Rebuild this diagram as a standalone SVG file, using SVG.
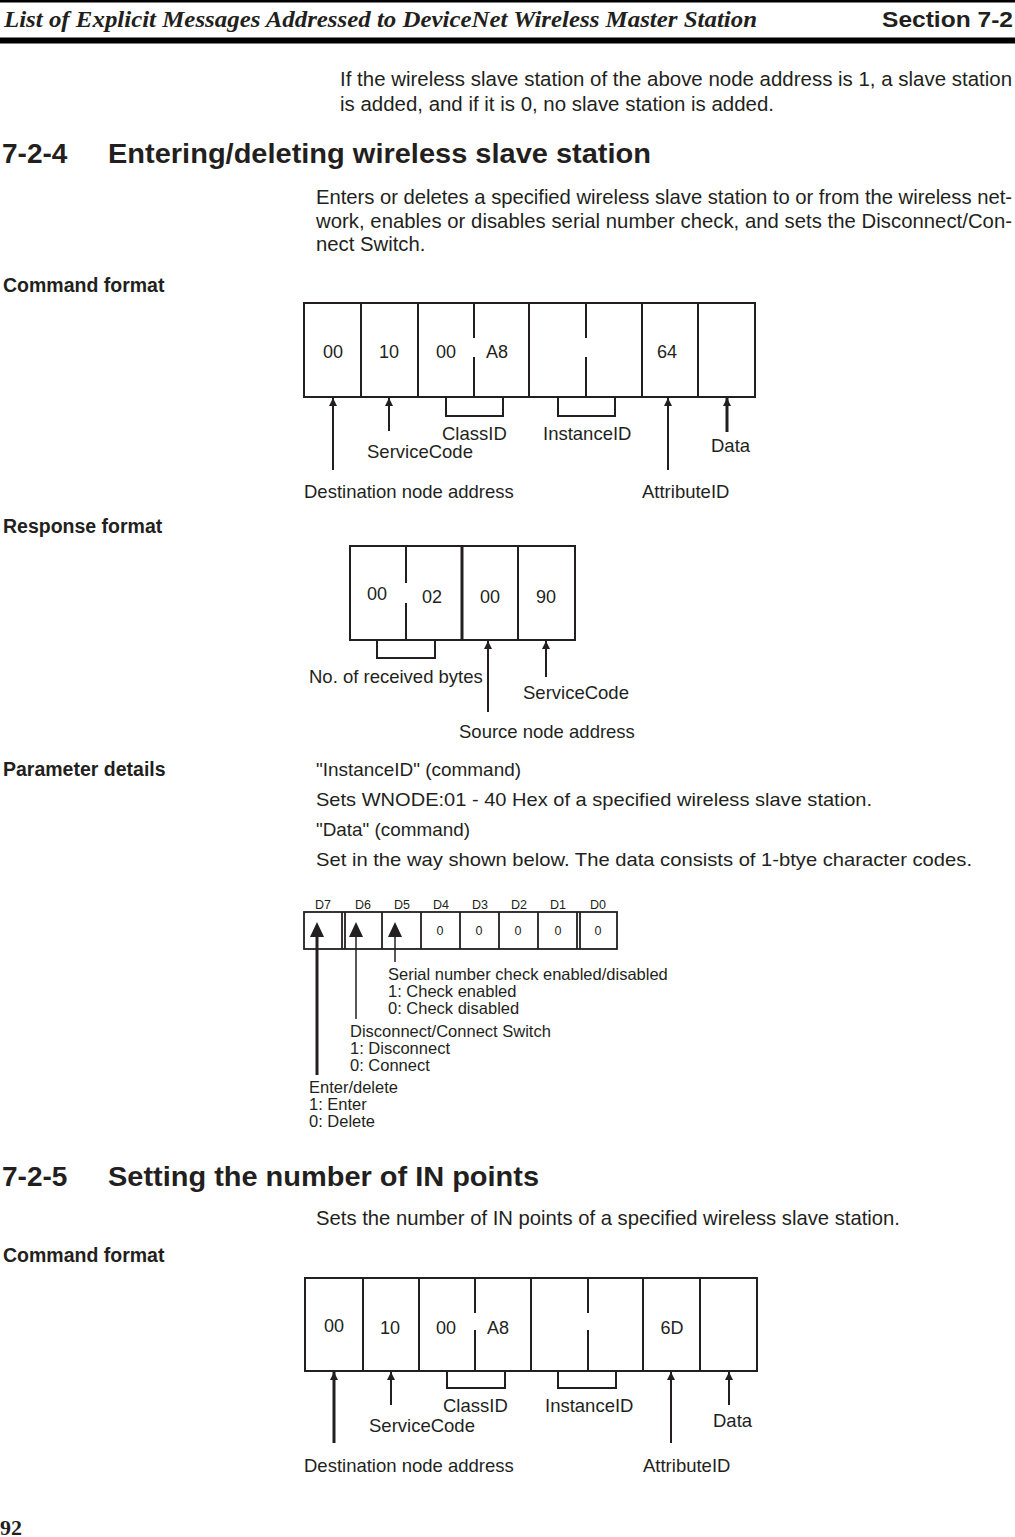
<svg xmlns="http://www.w3.org/2000/svg" width="1015" height="1537" viewBox="0 0 1015 1537">
<defs>
<style>
text{font-family:"Liberation Sans",Arial,Helvetica,sans-serif;fill:#231f20;}
.body{font-size:20.3px;}
.par{font-size:19px;}
.lbl{font-size:18.5px;}
.cell{font-size:18px;text-anchor:middle;}
.sub{font-size:19.5px;font-weight:bold;}
.h{font-size:28px;font-weight:bold;}
.bit{font-size:16.5px;}
.sm{font-size:12.5px;text-anchor:middle;}
.box{fill:none;stroke:#231f20;stroke-width:2;}
.ln{fill:none;stroke:#231f20;stroke-width:2;}
.arr{fill:none;stroke:#231f20;stroke-width:2;marker-end:url(#ah);}
.arrT{fill:none;stroke:#231f20;stroke-width:3;marker-end:url(#ah);}
</style>
<marker id="ah" viewBox="0 0 10 10" refX="10" refY="5" markerWidth="10" markerHeight="8" orient="auto" markerUnits="userSpaceOnUse">
<path d="M0,0 L10,5 L0,10 z" fill="#231f20"/>
</marker>
</defs>
<rect width="1015" height="1537" fill="#fff"/>

<g id="header">
<rect x="0" y="0" width="1015" height="2.5" fill="#000"/>
<rect x="0" y="37.5" width="1015" height="6" fill="#000"/>
<text x="4" y="27" style="font-family:'Liberation Serif','Times New Roman',serif;font-size:23px;font-weight:bold;font-style:italic" textLength="753" lengthAdjust="spacingAndGlyphs">List of Explicit Messages Addressed to DeviceNet Wireless Master Station</text>
<text x="882" y="27" style="font-size:22px;font-weight:bold" textLength="131" lengthAdjust="spacingAndGlyphs">Section 7-2</text>
</g>

<g id="text-top">
<text class="body" x="340" y="86" style="font-size:20.46px" textLength="672" lengthAdjust="spacing">If the wireless slave station of the above node address is 1, a slave station</text>
<text class="body" x="340" y="111" style="font-size:20.46px">is added, and if it is 0, no slave station is added.</text>
<text class="h" x="2" y="163">7-2-4</text>
<text class="h" x="108" y="163" textLength="543" lengthAdjust="spacingAndGlyphs">Entering/deleting wireless slave station</text>
<text class="body" x="316" y="204" textLength="696" lengthAdjust="spacing">Enters or deletes a specified wireless slave station to or from the wireless net-</text>
<text class="body" x="316" y="228" textLength="696" lengthAdjust="spacing">work, enables or disables serial number check, and sets the Disconnect/Con-</text>
<text class="body" x="316" y="251">nect Switch.</text>
<text class="sub" x="3" y="292">Command format</text>
<text class="sub" x="3" y="533">Response format</text>
<text class="sub" x="3" y="776">Parameter details</text>
<text class="par" x="316" y="776" textLength="205" lengthAdjust="spacingAndGlyphs">"InstanceID" (command)</text>
<text class="par" x="316" y="806" textLength="556" lengthAdjust="spacingAndGlyphs">Sets WNODE:01 - 40 Hex of a specified wireless slave station.</text>
<text class="par" x="316" y="836" textLength="154" lengthAdjust="spacingAndGlyphs">"Data" (command)</text>
<text class="par" x="316" y="866" textLength="656" lengthAdjust="spacingAndGlyphs">Set in the way shown below. The data consists of 1-btye character codes.</text>
<text class="h" x="2" y="1186">7-2-5</text>
<text class="h" x="108" y="1186" textLength="431" lengthAdjust="spacingAndGlyphs">Setting the number of IN points</text>
<text class="body" x="316" y="1225" textLength="584" lengthAdjust="spacingAndGlyphs">Sets the number of IN points of a specified wireless slave station.</text>
<text class="sub" x="3" y="1262">Command format</text>
<text x="0" y="1535" style="font-family:'Liberation Serif','Times New Roman',serif;font-size:22px;font-weight:bold">92</text>
</g>

<g id="cmd1">
<rect class="box" x="304" y="303" width="451" height="94"/>
<path class="ln" d="M361,303V397M418,303V397M529,303V397M642,303V397M698,303V397M474,303V338M474,357V397M586,303V338M586,357V397"/>
<text class="cell" x="333" y="358">00</text>
<text class="cell" x="389" y="358">10</text>
<text class="cell" x="446" y="358">00</text>
<text class="cell" x="497" y="358">A8</text>
<text class="cell" x="667" y="358">64</text>
</g>

<g id="cmd1-labels">
<text class="lbl" x="442" y="440">ClassID</text>
<text class="lbl" x="543" y="440">InstanceID</text>
<text class="lbl" x="367" y="458">ServiceCode</text>
<text class="lbl" x="711" y="452">Data</text>
<text class="lbl" x="304" y="498">Destination node address</text>
<text class="lbl" x="642" y="498">AttributeID</text>
</g>

<g id="resp">
<rect class="box" x="350" y="546" width="225" height="94"/>
<path class="ln" d="M406,546V583M406,603V640M518,546V640"/>
<path d="M462,546V640" fill="none" stroke="#231f20" stroke-width="3"/>
<text class="cell" x="377" y="600">00</text>
<text class="cell" x="432" y="603">02</text>
<text class="cell" x="490" y="603">00</text>
<text class="cell" x="546" y="603">90</text>
</g>

<g id="resp-labels">
<text class="lbl" x="309" y="683">No. of received bytes</text>
<text class="lbl" x="523" y="699">ServiceCode</text>
<text class="lbl" x="459" y="738">Source node address</text>
</g>

<g id="bits">
<rect class="box" x="304" y="912" width="313" height="37" style="stroke-width:1.8"/>
<path class="ln" style="stroke-width:1.8" d="M342,912V949M345,912V949M382,912V949M421,912V949M460,912V949M499,912V949M538,912V949M577,912V949M580,912V949"/>
<text class="sm" x="323" y="909">D7</text>
<text class="sm" x="363" y="909">D6</text>
<text class="sm" x="402" y="909">D5</text>
<text class="sm" x="441" y="909">D4</text>
<text class="sm" x="480" y="909">D3</text>
<text class="sm" x="519" y="909">D2</text>
<text class="sm" x="558" y="909">D1</text>
<text class="sm" x="598" y="909">D0</text>
<text class="sm" x="440" y="935">0</text>
<text class="sm" x="479" y="935">0</text>
<text class="sm" x="518" y="935">0</text>
<text class="sm" x="558" y="935">0</text>
<text class="sm" x="598" y="935">0</text>
<path d="M317,922L324,937H310z M356,922L363,937H349z M395,922L402,937H388z" fill="#231f20"/>
</g>

<g id="bit-labels">
<text class="bit" x="388" y="980">Serial number check enabled/disabled</text>
<text class="bit" x="388" y="997">1: Check enabled</text>
<text class="bit" x="388" y="1014">0: Check disabled</text>
<text class="bit" x="350" y="1037">Disconnect/Connect Switch</text>
<text class="bit" x="350" y="1054">1: Disconnect</text>
<text class="bit" x="350" y="1071">0: Connect</text>
<text class="bit" x="309" y="1093">Enter/delete</text>
<text class="bit" x="309" y="1110">1: Enter</text>
<text class="bit" x="309" y="1127">0: Delete</text>
</g>

<g id="cmd2">
<rect class="box" x="305" y="1278" width="452" height="93"/>
<path class="ln" d="M363,1278V1371M419,1278V1371M531,1278V1371M643,1278V1371M700,1278V1371M475,1278V1313M475,1330V1371M588,1278V1313M588,1330V1371"/>
<text class="cell" x="334" y="1332">00</text>
<text class="cell" x="390" y="1334">10</text>
<text class="cell" x="446" y="1334">00</text>
<text class="cell" x="498" y="1334">A8</text>
<text class="cell" x="672" y="1334">6D</text>
</g>

<g id="cmd2-labels">
<text class="lbl" x="443" y="1412">ClassID</text>
<text class="lbl" x="545" y="1412">InstanceID</text>
<text class="lbl" x="369" y="1432">ServiceCode</text>
<text class="lbl" x="713" y="1427">Data</text>
<text class="lbl" x="304" y="1472">Destination node address</text>
<text class="lbl" x="643" y="1472">AttributeID</text>
</g>

<g id="connectors">
<path class="ln" d="M446,397V416H503V397M558,397V416H615V397"/>
<path class="arr" d="M333,470V398"/>
<path class="arr" d="M389,431V398"/>
<path class="arr" d="M668,470V398"/>
<path class="arrT" d="M727,432V398"/>
<path class="ln" d="M377,640V658H435V640"/>
<path class="arr" d="M488,712V641"/>
<path class="arr" d="M546,677V641"/>
<path class="ln" style="stroke-width:3" d="M317,937V1075"/>
<path class="ln" style="stroke-width:1.5" d="M356,937V1019"/>
<path class="ln" style="stroke-width:1.5" d="M395,937V962"/>
<path class="ln" d="M447,1371V1388H505V1371M558,1371V1388H616V1371"/>
<path class="arrT" d="M334,1443V1372"/>
<path class="arr" d="M391,1405V1372"/>
<path class="arr" d="M671,1443V1372"/>
<path class="arr" d="M729,1405V1372"/>
</g>
</svg>
